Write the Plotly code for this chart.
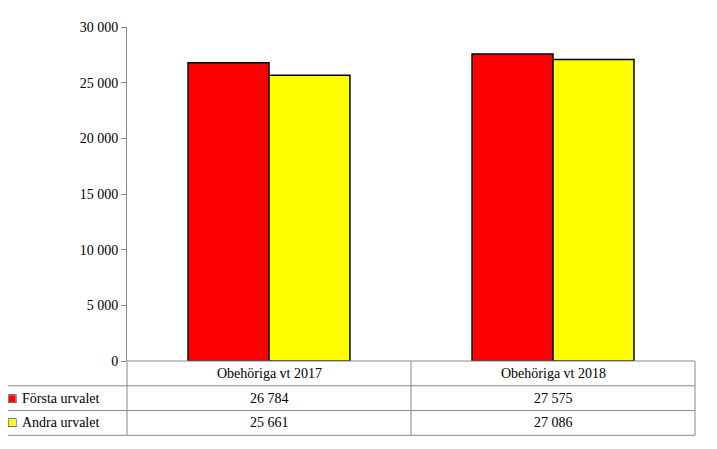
import plotly.graph_objects as go

categories = ["Obehöriga vt 2017", "Obehöriga vt 2018"]
series_names = ["Första urvalet", "Andra urvalet"]
forsta = [26784, 27575]
andra = [25661, 27086]
colors = ["#FF0000", "#FFFF00"]
values = [forsta, andra]

def fmt(v):
    return f"{v:,}".replace(",", " ")

fig = go.Figure()
for name, vals, c in zip(series_names, values, colors):
    fig.add_bar(x=categories, y=vals, name=name, marker=dict(color=c, line=dict(color="black", width=1.5)))

font = dict(family="Liberation Serif", size=14, color="black")
rh = 25 / 337
left = (3 - 127) / 568
shapes = []
line = dict(color="#888888", width=1)
for i in range(4):
    y = -i * rh
    x0 = 0 if i == 0 else left
    shapes.append(dict(type="line", xref="paper", yref="paper", x0=x0, x1=1, y0=y, y1=y, line=line))
shapes.append(dict(type="line", xref="paper", yref="paper", x0=left, x1=left, y0=-rh, y1=-3 * rh, line=line))
shapes.append(dict(type="line", xref="paper", yref="paper", x0=0, x1=0, y0=0, y1=-3 * rh, line=line))
shapes.append(dict(type="line", xref="paper", yref="paper", x0=0.5, x1=0.5, y0=0, y1=-3 * rh, line=line))
shapes.append(dict(type="line", xref="paper", yref="paper", x0=1, x1=1, y0=0, y1=-3 * rh, line=line))

ann = []
for cat in categories:
    ann.append(dict(x=cat, xref="x", yref="paper", y=-0.5 * rh, text=cat, showarrow=False, font=font, yanchor="middle"))
for r, (name, vals, c) in enumerate(zip(series_names, values, colors)):
    yc = -(r + 1.5) * rh
    ann.append(dict(x=left + 0.006, xref="paper", yref="paper", y=yc, text="■", showarrow=False,
                    font=dict(size=14, color=c), xanchor="left", yanchor="middle"))
    ann.append(dict(x=left + 0.006, xref="paper", yref="paper", y=yc, text="□", showarrow=False,
                    font=dict(size=14, color="black"), xanchor="left", yanchor="middle"))
    ann.append(dict(x=left + 0.03, xref="paper", yref="paper", y=yc, text=name, showarrow=False,
                    font=font, xanchor="left", yanchor="middle"))
    for cat, v in zip(categories, vals):
        ann.append(dict(x=cat, xref="x", yref="paper", y=yc, text=fmt(v), showarrow=False, font=font, yanchor="middle"))

fig.update_layout(
    width=717, height=449, margin=dict(l=119, r=30, t=16, b=96),
    plot_bgcolor="white", paper_bgcolor="white", showlegend=False,
    barmode="group", bargap=0.43, bargroupgap=0,
    separators=". ", font=font, shapes=shapes, annotations=ann,
    xaxis=dict(showticklabels=False, showline=False, showgrid=False, range=[-0.5, 1.5]),
    yaxis=dict(range=[0, 30000], dtick=5000, tickformat=",d", showgrid=False, showline=True,
               linecolor="#888888", ticks="outside", tickcolor="#888888", ticklen=5, zeroline=False),
)
fig.write_html("out.html")
